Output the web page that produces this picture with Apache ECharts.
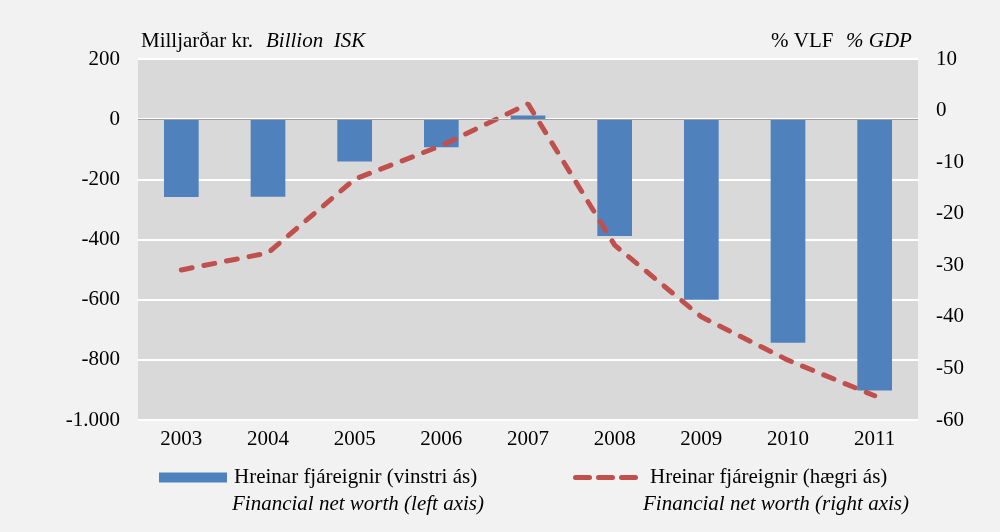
<!DOCTYPE html>
<html lang="is">
<head>
    <meta charset="UTF-8">
    <title>Hreinar fjáreignir</title>
    <style>
        html, body { margin: 0; padding: 0; background: #F2F2F2; }
        #main { width: 1000px; height: 532px; }
    </style>
    <script src="https://cdn.jsdelivr.net/npm/echarts@6/dist/echarts.min.js"></script>
</head>
<body>
    <div id="main"></div>
    <script type="text/javascript">
        // gögn lesin af myndinni
        var years = ['2003', '2004', '2005', '2006', '2007', '2008', '2009', '2010', '2011'];
        var netWorthBn = [-259, -258, -141, -93, 12, -388, -600, -743, -902];     // vinstri ás
        var netWorthGdp = [-30.9, -27.6, -13.3, -6.8, 1.3, -26.1, -40.0, -48.4, -55.3]; // hægri ás

        var font = '"Liberation Serif", "Times New Roman", serif';
        var fs = 21;

        // þrjú strik fyrir skýringu línunnar
        var dashIcon = 'path://' +
            'M2.5,0H16.5A2.5,2.5 0 0 1 16.5,5H2.5A2.5,2.5 0 0 1 2.5,0Z' +
            'M25.5,0H39.5A2.5,2.5 0 0 1 39.5,5H25.5A2.5,2.5 0 0 1 25.5,0Z' +
            'M48.5,0H62.5A2.5,2.5 0 0 1 62.5,5H48.5A2.5,2.5 0 0 1 48.5,0Z';

        var chart = echarts.init(document.getElementById('main'));

        var option = {
            backgroundColor: '#F2F2F2',
            textStyle: { fontFamily: font, color: '#000' },
            grid: {
                left: 138, right: 82, top: 59, bottom: 112,
                show: true, backgroundColor: '#D9D9D9', borderWidth: 0
            },
            legend: [{
                left: 159, top: 467, padding: 0,
                itemWidth: 68, itemHeight: 10, itemGap: 0,
                textStyle: { fontFamily: font, fontSize: fs, color: '#000', padding: [0, 0, 0, 2] },
                data: [{ name: 'Hreinar fjáreignir (vinstri ás)', icon: 'rect' }]
            }, {
                left: 573, top: 467, padding: 0,
                itemWidth: 65, itemHeight: 5, itemGap: 0,
                textStyle: { fontFamily: font, fontSize: fs, color: '#000', padding: [0, 0, 0, 7] },
                data: [{ name: 'Hreinar fjáreignir (hægri ás)', icon: dashIcon }]
            }],
            graphic: [
                { type: 'text', left: 141, top: 31, style: { text: 'Milljarðar kr.', font: fs + 'px ' + font, fill: '#000' } },
                { type: 'text', left: 266, top: 31, style: { text: 'Billion  ISK', font: 'italic ' + fs + 'px ' + font, fill: '#000' } },
                { type: 'text', left: 771, top: 31, style: { text: '% VLF', font: fs + 'px ' + font, fill: '#000' } },
                { type: 'text', left: 846, top: 31, style: { text: '% GDP', font: 'italic ' + fs + 'px ' + font, fill: '#000' } },
                { type: 'text', left: 232, top: 494, style: { text: 'Financial net worth (left axis)', font: 'italic ' + fs + 'px ' + font, fill: '#000' } },
                { type: 'text', left: 643, top: 494, style: { text: 'Financial net worth (right axis)', font: 'italic ' + fs + 'px ' + font, fill: '#000' } }
            ],
            xAxis: {
                type: 'category',
                data: years,
                axisLine: { show: false },
                axisTick: { show: false },
                axisLabel: { fontSize: fs, color: '#000', margin: 9 }
            },
            yAxis: [{
                type: 'value',
                min: -1000, max: 200, interval: 200,
                axisLine: { show: false },
                axisTick: { show: false },
                splitLine: { lineStyle: { color: '#FFFFFF', width: 2 } },
                axisLabel: {
                    fontSize: fs, color: '#000', margin: 18,
                    formatter: function (v) { return String(v).replace('1000', '1.000'); }
                }
            }, {
                type: 'value',
                min: -60, max: 10, interval: 10,
                axisLine: { show: false },
                axisTick: { show: false },
                splitLine: { show: false },
                axisLabel: { fontSize: fs, color: '#000', margin: 18 }
            }],
            series: [{
                name: 'Hreinar fjáreignir (vinstri ás)',
                type: 'bar',
                yAxisIndex: 0,
                data: netWorthBn,
                barWidth: '40%',
                itemStyle: { color: '#4F81BD' },
                markLine: {
                    silent: true, symbol: 'none', label: { show: false },
                    lineStyle: { color: '#A0A0A0', width: 1, type: 'solid' },
                    data: [{ yAxis: 0 }]
                },
                z: 2
            }, {
                name: 'Hreinar fjáreignir (hægri ás)',
                type: 'line',
                yAxisIndex: 1,
                data: netWorthGdp,
                showSymbol: false,
                symbol: 'none',
                lineStyle: { color: '#C0504D', width: 5, type: [11, 12], cap: 'round' },
                itemStyle: { color: '#C0504D' },
                z: 3
            }]
        };

        chart.setOption(option);
    </script>
</body>
</html>
